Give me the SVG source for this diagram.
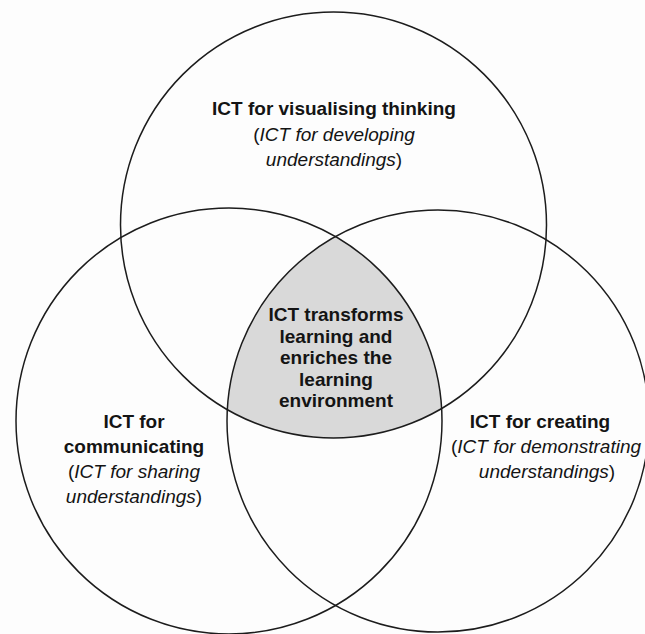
<svg xmlns="http://www.w3.org/2000/svg" width="645" height="634" viewBox="0 0 645 634">
<style>
.c{fill:none;stroke:#1c1c1c;stroke-width:1.5}
.t{font-family:"Liberation Sans",Arial,Helvetica,sans-serif;font-size:19px;fill:#141414;text-anchor:middle}
.b{font-weight:bold}
.i{font-style:italic}
</style>
<defs>
<clipPath id="clipL"><circle cx="229" cy="421" r="213"/></clipPath>
<clipPath id="clipR"><circle cx="438" cy="421" r="211"/></clipPath>
</defs>
<rect width="645" height="634" fill="#fdfdfd"/>
<g id="center">
<g clip-path="url(#clipR)"><g clip-path="url(#clipL)"><circle cx="333.5" cy="225" r="213" fill="#d9d9d9"/></g></g>
<text class="t b" x="336" y="321">ICT transforms</text>
<text class="t b" x="336" y="343">learning and</text>
<text class="t b" x="336" y="364">enriches the</text>
<text class="t b" x="336" y="386">learning</text>
<text class="t b" x="336" y="407">environment</text>
</g>
<g id="top">
<circle class="c" cx="333.5" cy="225" r="213"/>
<text class="t b" x="334" y="115">ICT for visualising thinking</text>
<text class="t" x="334" y="141">(<tspan class="i">ICT for developing</tspan></text>
<text class="t" x="334" y="166"><tspan class="i">understandings</tspan>)</text>
</g>
<g id="left">
<circle class="c" cx="229" cy="421" r="213"/>
<text class="t b" x="134" y="428">ICT for</text>
<text class="t b" x="134" y="453">communicating</text>
<text class="t" x="134" y="478">(<tspan class="i">ICT for sharing</tspan></text>
<text class="t" x="134" y="503"><tspan class="i">understandings</tspan>)</text>
</g>
<g id="right">
<circle class="c" cx="438" cy="421" r="211"/>
<text class="t b" x="540" y="428">ICT for creating</text>
<text class="t" x="546" y="453">(<tspan class="i">ICT for demonstrating</tspan></text>
<text class="t" x="547" y="478"><tspan class="i">understandings</tspan>)</text>
</g>
<g id="connectors"></g>
</svg>
